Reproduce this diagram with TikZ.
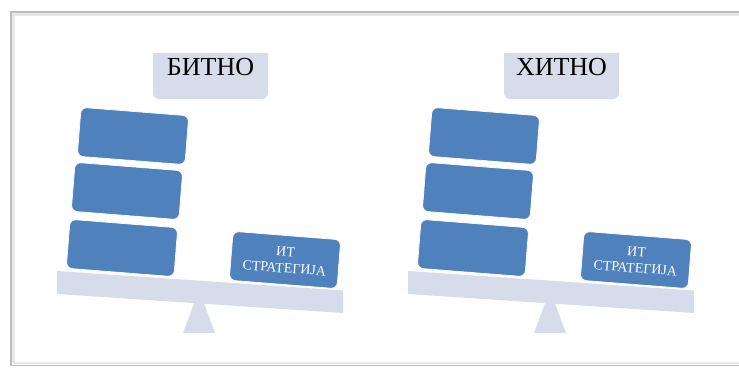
\documentclass[tikz,border=0pt]{standalone}
\usepackage{fontspec}
\setmainfont{Liberation Serif}
\definecolor{blk}{HTML}{4F81BD}
\definecolor{lite}{HTML}{D6DCE9}
\definecolor{framegray}{HTML}{BDBDBD}
\definecolor{shadowgray}{HTML}{E8E8E8}
\newcommand\drawpanel[3]{%
  \begin{scope}[xshift=#1pt]
    \fill[lite, rounded corners=6pt] (153,53) [sharp corners] -- (153,75) [rounded corners=6pt] -- (153,99) -- (268,99) -- (268,75) [sharp corners] -- (268,53) -- cycle;
    \node[titletext] (#2title) at (210.5,75) {#3};
    \fill[lite] (183,333) -- (215,333) -- (199,290) -- cycle;
    \fill[lite] (57,271) -- (343,290.5) -- (343,313) -- (57,294) -- cycle;
    \node[blockbox] (#2b1) at (133,136) {};
    \node[blockbox] (#2b2) at (127,191) {};
    \node[blockbox] (#2b3) at (122,248) {};
    \node[blockbox] (#2it) at (285,260) {ИТ\\СТРАТЕГИЈА};
  \end{scope}}
\begin{document}
\begin{tikzpicture}[x=1pt,y=-1pt,
  blockbox/.style={fill=blk, draw=white, line width=0.7pt, rounded corners=6pt,
    minimum width=108pt, minimum height=49pt, inner sep=0pt, rotate=-4.5,
    text=white, font=\fontsize{14}{16.5}\selectfont, align=center},
  titletext/.style={font=\fontsize{26}{30}\selectfont, anchor=base, text=black}]
\useasboundingbox (0,0) rectangle (739,370);
\fill[white] (0,0) rectangle (739,370);
% frame with soft shadow
\draw[shadowgray, line width=2.5pt] (13.5,363) -- (13.5,14.5) -- (739,14.5);
\draw[shadowgray, line width=2.5pt] (13.5,363) -- (739,363);
\draw[framegray, line width=1.2pt] (11,366) -- (11,12) -- (739,12);
\draw[framegray, line width=1.2pt] (11,365.5) -- (739,365.5);
\drawpanel{0}{l}{БИТНО}
\drawpanel{351}{r}{ХИТНО}
\end{tikzpicture}
\end{document}
